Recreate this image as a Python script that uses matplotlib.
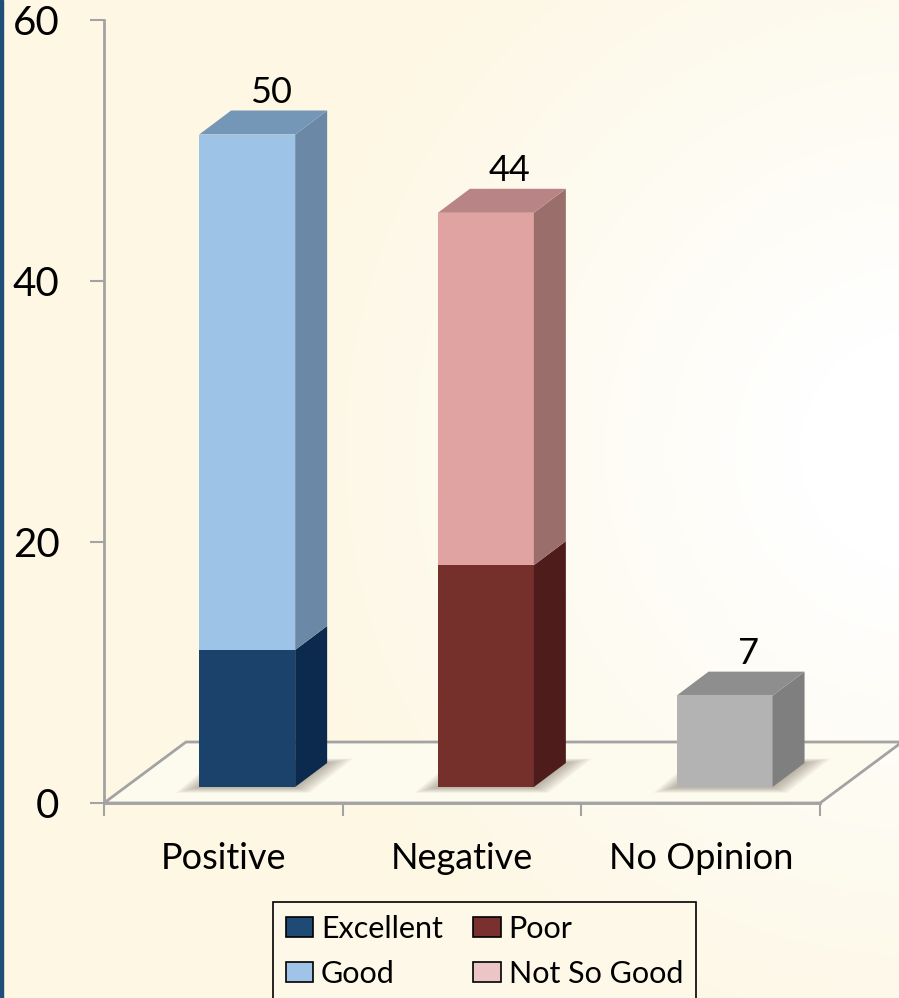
import matplotlib
matplotlib.use('Agg')
import matplotlib.pyplot as plt
from matplotlib.patches import Polygon, Rectangle, Patch
import numpy as np

# data
categories = ['Positive', 'Negative', 'No Opinion']
excellent = [10.5, 0, 0]
good = [39.5, 0, 0]
poor = [0, 17, 0]
not_so_good = [0, 27, 0]
no_opinion = [0, 0, 7]
y_ticks = [0, 20, 40, 60]

plt.rcParams['font.family'] = ['Lato', 'DejaVu Sans']

W, H = 899, 998
fig = plt.figure(figsize=(W / 100, H / 100), dpi=100)

# background: cream with a soft radial highlight on the right
bg = fig.add_axes([0, 0, 1, 1], zorder=-10)
yy, xx = np.mgrid[0:H, 0:W]
r = np.clip((np.hypot(xx - 920, yy - 450) - 120) / 520, 0, 1)
c_in = np.array([1.0, 1.0, 1.0])
c_out = np.array([253, 247, 228]) / 255
img = c_in + (c_out - c_in) * r[..., None]
bg.imshow(img, aspect='auto', extent=[0, W, H, 0])
bg.add_patch(Rectangle((0, 0), 2.5, H, color='#1f4e79'))
bg.set_xlim(0, W)
bg.set_ylim(H, 0)
bg.axis('off')

# main axes; scale: 238.7 px per category, 13.05 px per unit
px_x = 238.7
px_y = 783 / 60
ax = fig.add_axes([104 / W, (H - 803) / H, (W - 104) / W, 783 / H])
ax.set_xlim(-0.5, -0.5 + (W - 104) / px_x)
ax.set_ylim(0, 60)
ax.patch.set_alpha(0)

grey = '#a3a3a3'
n = len(categories)

# floor
fdx, fdy = 82 / px_x, 61 / px_y
floor = Polygon([(-0.5, 0), (n - 0.5, 0), (n - 0.5 + fdx, fdy), (-0.5 + fdx, fdy)],
                closed=True, facecolor='#fdfaee', edgecolor=grey, lw=2, zorder=1,
                clip_on=False)
ax.add_patch(floor)

# bar geometry
bw = 96 / px_x
off_x, off_y = 25 / px_x, 16 / px_y
ddx, ddy = 32 / px_x, 24 / px_y

series = [
    (excellent, '#1b426b', '#0b2a4e', '#234d7a'),
    (good, '#9dc3e6', '#6b89a7', '#7597b7'),
    (poor, '#76302b', '#4f1c1c', '#8a3d37'),
    (not_so_good, '#e0a3a2', '#9a6e6b', '#b98485'),
    (no_opinion, '#b3b3b3', '#7f7f7f', '#8e8e8e'),
]

totals = np.sum([s[0] for s in series], axis=0)

for i in range(n):
    x0 = i - bw / 2 + off_x - 0.005
    base = off_y
    # soft shadow on the floor
    for k in range(8):
        e = (8 - k) * 1.8
        ex, ey = e / px_x, e / px_y
        ax.add_patch(Polygon([(x0 - 1.6 * ex, base - 0.4 * ey), (x0 + bw + ex, base - 0.4 * ey),
                              (x0 + bw + ddx + 1.8 * ex, base + ddy + 0.3 * ey),
                              (x0 + ddx - ex, base + ddy + 0.3 * ey)],
                             closed=True, facecolor='#5a5440', edgecolor='none',
                             alpha=0.06, zorder=2))
    bottom = base
    segs = [s for s in series if s[0][i] > 0]
    for j, (vals, front, side, top) in enumerate(segs):
        h = vals[i]
        yb, yt = bottom, bottom + h
        ax.add_patch(Rectangle((x0, yb), bw, h, facecolor=front, edgecolor='none', zorder=3))
        ax.add_patch(Polygon([(x0 + bw, yb), (x0 + bw + ddx, yb + ddy),
                              (x0 + bw + ddx, yt + ddy), (x0 + bw, yt)],
                             closed=True, facecolor=side, edgecolor='none', zorder=3))
        if j == len(segs) - 1:
            ax.add_patch(Polygon([(x0, yt), (x0 + ddx, yt + ddy),
                                  (x0 + bw + ddx, yt + ddy), (x0 + bw, yt)],
                                 closed=True, facecolor=top, edgecolor='none', zorder=3))
            ax.text(x0 + bw / 2 + 0.75 * ddx, yt + ddy + 0.6, f'{totals[i]:g}',
                    ha='center', va='baseline', fontsize=26, color='black', zorder=4)
        bottom = yt

# axes styling
for s in ['top', 'right']:
    ax.spines[s].set_visible(False)
ax.spines['left'].set_color(grey)
ax.spines['left'].set_linewidth(2)
ax.spines['bottom'].set_color(grey)
ax.spines['bottom'].set_linewidth(2)
ax.spines['bottom'].set_bounds(-0.5, n - 0.5)
ax.spines['bottom'].set_zorder(1.5)

ax.set_yticks(y_ticks)
ax.tick_params(axis='y', length=10, width=1.5, color=grey, labelsize=29, pad=22)
ax.set_xticks(np.arange(n + 1) - 0.5)
ax.set_xticklabels([])
ax.tick_params(axis='x', which='major', length=9, width=1.5, color=grey)
ax.set_xticks(np.arange(n), categories, minor=True)
ax.tick_params(axis='x', which='minor', length=0, labelsize=26, pad=28)

# legend
handles = [Patch(facecolor='#1f4a75', edgecolor='black', lw=1.2, label='Excellent'),
           Patch(facecolor='#a0c4e8', edgecolor='black', lw=1.2, label='Good'),
           Patch(facecolor='#7b3030', edgecolor='black', lw=1.2, label='Poor'),
           Patch(facecolor='#ecc6c6', edgecolor='black', lw=1.2, label='Not So Good')]
leg = fig.legend(handles=handles, ncol=2, loc='upper left',
                 bbox_to_anchor=(273 / W, 1 - 902 / H), fontsize=22,
                 frameon=True, fancybox=False, edgecolor='black', facecolor='#fdf8e8',
                 framealpha=1, handlelength=0.9, handleheight=0.6, handletextpad=0.25,
                 columnspacing=1.0, labelspacing=0.55, borderpad=0.42, borderaxespad=0)
leg.get_frame().set_linewidth(1.2)

fig.savefig('out.png', dpi=100)
